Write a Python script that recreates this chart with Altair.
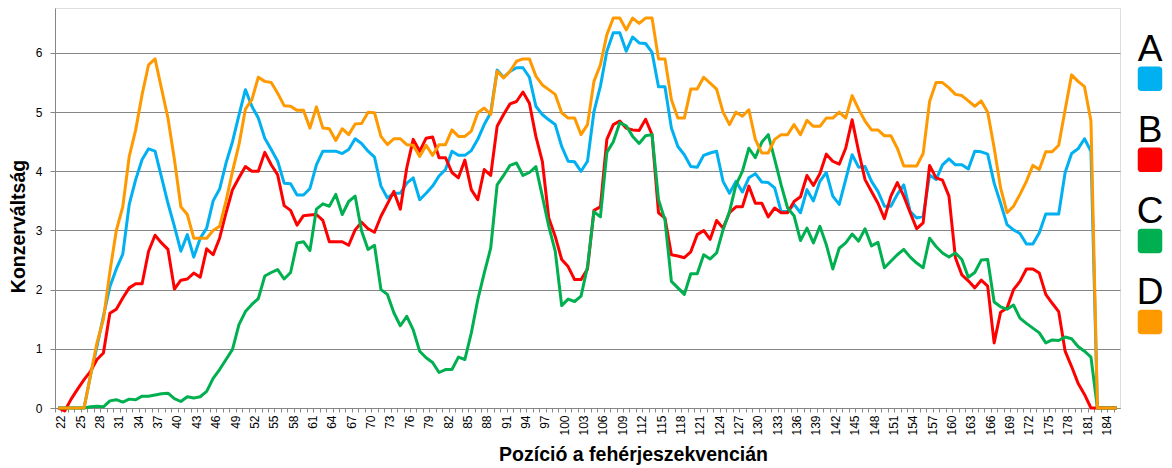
import altair as alt
import pandas as pd

positions = list(range(22, 187))
series_names = ["A", "B", "C", "D"]
series_colors = ["#00B0F0", "#FF0000", "#00B050", "#FF9900"]
y_ticks = [0, 1, 2, 3, 4, 5, 6]
x_label_step = 3

A = [0, 0, 0, 0, 0, 0.55, 1.04, 1.55, 2.05, 2.35,
     2.6, 3.44, 3.86, 4.2, 4.38, 4.34, 3.9, 3.46, 3.07, 2.65,
     2.93, 2.55, 2.87, 3.04, 3.5, 3.7, 4.14, 4.5, 4.95, 5.38,
     5.1, 4.9, 4.56, 4.37, 4.17, 3.8, 3.79, 3.6, 3.6, 3.71,
     4.11, 4.34, 4.34, 4.34, 4.3, 4.37, 4.55, 4.47, 4.34, 4.24,
     3.75, 3.55, 3.63, 3.63, 3.8, 3.89, 3.52, 3.63, 3.75, 3.92,
     4.03, 4.34, 4.27, 4.27, 4.35, 4.54, 4.79, 4.99, 5.71, 5.59,
     5.69, 5.75, 5.75, 5.59, 5.1, 4.96, 4.87, 4.79, 4.42, 4.17,
     4.16, 4.0, 4.17, 5.01, 5.44, 6.03, 6.34, 6.34, 6.03, 6.27,
     6.17, 6.16, 6.01, 5.43, 5.43, 4.73, 4.42, 4.28, 4.08, 4.07,
     4.27, 4.31, 4.34, 3.83, 3.63, 3.83, 3.65, 3.89, 3.96, 3.82,
     3.81, 3.72, 3.32, 3.32, 3.44, 3.3, 3.69, 3.5, 3.83, 3.98,
     3.58, 3.44, 3.86, 4.28, 4.07, 4.08, 3.83, 3.66, 3.41, 3.41,
     3.61, 3.77, 3.32, 3.21, 3.24, 3.94, 3.86, 4.11, 4.21, 4.11,
     4.11, 4.04, 4.34, 4.33, 4.29, 3.8, 3.46, 3.1, 3.01, 2.95,
     2.77, 2.77, 2.96, 3.28, 3.28, 3.28, 3.98, 4.3, 4.38, 4.55,
     4.34, 0, 0, 0, 0]

B = [0, -0.05, 0.15, 0.32, 0.48, 0.62, 0.82, 0.93, 1.6, 1.67,
     1.86, 2.03, 2.1, 2.1, 2.65, 2.92, 2.79, 2.68, 2.01, 2.16,
     2.18, 2.28, 2.21, 2.69, 2.59, 2.87, 3.3, 3.69, 3.89, 4.08,
     4.0, 4.0, 4.32, 4.11, 3.94, 3.42, 3.34, 3.09, 3.25, 3.26,
     3.27, 3.17, 2.81, 2.81, 2.81, 2.75, 3.01, 3.14, 3.03, 2.97,
     3.24, 3.45, 3.66, 3.36, 4.06, 4.54, 4.34, 4.56, 4.58, 4.23,
     4.23, 3.98, 3.89, 4.19, 3.69, 3.52, 4.03, 3.93, 4.76, 4.96,
     5.14, 5.18, 5.34, 5.15, 4.59, 4.17, 3.21, 2.9, 2.51, 2.39,
     2.17, 2.17, 2.35, 3.34, 3.4, 4.54, 4.79, 4.85, 4.73, 4.7,
     4.69, 4.88, 4.62, 3.3, 3.21, 2.59, 2.57, 2.54, 2.64, 2.93,
     3.0, 2.85, 3.17, 3.04, 3.3, 3.4, 3.4, 3.75, 3.46, 3.46,
     3.23, 3.38, 3.3, 3.3, 3.49, 3.57, 3.93, 3.76, 3.96, 4.29,
     4.17, 4.12, 4.39, 4.87, 4.34, 3.86, 3.66, 3.46, 3.2, 3.58,
     3.81, 3.58, 3.3, 3.03, 3.13, 4.1, 3.89, 3.85, 3.58, 2.54,
     2.25, 2.15, 2.03, 2.16, 2.06, 1.1, 1.62, 1.69, 2.0, 2.14,
     2.35, 2.35, 2.28, 1.92, 1.77, 1.63, 0.96, 0.7, 0.42, 0.23,
     0, 0, 0, 0, 0]

C = [0, 0, 0, 0, 0, 0.02, 0.03, 0.02, 0.12, 0.14,
     0.1, 0.15, 0.14, 0.2, 0.2, 0.22, 0.24, 0.25, 0.16, 0.11,
     0.19, 0.17, 0.19, 0.28, 0.5, 0.65, 0.82, 0.99, 1.41, 1.63,
     1.75, 1.85, 2.23, 2.29, 2.34, 2.18, 2.29, 2.79, 2.81, 2.66,
     3.36, 3.45, 3.41, 3.61, 3.27, 3.49, 3.58, 2.99, 2.68, 2.75,
     2.0, 1.92, 1.61, 1.39, 1.55, 1.32, 0.96, 0.85, 0.77, 0.6,
     0.65, 0.65, 0.86, 0.82, 1.27, 1.83, 2.28, 2.7, 3.77, 3.93,
     4.1, 4.14, 3.93, 3.98, 4.08, 3.58, 3.07, 2.65, 1.73, 1.84,
     1.8, 1.89, 2.39, 3.32, 3.23, 4.32, 4.5, 4.82, 4.77, 4.59,
     4.47, 4.6, 4.62, 3.52, 3.18, 2.14, 2.03, 1.92, 2.27, 2.27,
     2.59, 2.52, 2.62, 3.01, 3.32, 3.77, 4.0, 4.39, 4.23, 4.49,
     4.62, 4.2, 3.77, 3.38, 3.25, 2.83, 3.04, 2.79, 3.07, 2.76,
     2.35, 2.7, 2.79, 2.94, 2.82, 3.03, 2.74, 2.8, 2.37, 2.48,
     2.59, 2.68, 2.55, 2.45, 2.37, 2.87, 2.73, 2.62, 2.55, 2.62,
     2.51, 2.21, 2.29, 2.5, 2.51, 1.79, 1.71, 1.67, 1.74, 1.52,
     1.43, 1.35, 1.27, 1.1, 1.15, 1.14, 1.2, 1.17, 1.04, 0.96,
     0.86, 0, 0, 0, 0]

D = [0, 0, 0, 0, 0, 0.55, 1.1, 1.5, 2.3, 3.0,
     3.4, 4.25, 4.7, 5.3, 5.8, 5.9, 5.4, 4.9, 4.2, 3.4,
     3.27, 2.87, 2.87, 2.87, 3.0, 3.07, 3.5, 4.0, 4.45, 5.05,
     5.21, 5.59, 5.52, 5.5, 5.32, 5.11, 5.1, 5.03, 5.03, 4.73,
     5.09, 4.73, 4.72, 4.52, 4.72, 4.62, 4.8, 4.81, 5.0, 4.99,
     4.59, 4.45, 4.55, 4.55, 4.45, 4.44, 4.25, 4.44, 4.27, 4.45,
     4.45, 4.7, 4.59, 4.59, 4.68, 4.99, 5.07, 4.96, 5.69, 5.58,
     5.69, 5.86, 5.9, 5.9, 5.61, 5.46, 5.38, 5.3, 4.99, 4.9,
     4.9, 4.62, 4.79, 5.52, 5.8, 6.31, 6.59, 6.59, 6.39, 6.59,
     6.5, 6.59, 6.59, 5.9, 5.9, 5.21, 4.9, 4.9, 5.39, 5.39,
     5.59, 5.49, 5.39, 5.0, 4.79, 5.0, 4.93, 5.04, 4.54, 4.31,
     4.31, 4.54, 4.62, 4.62, 4.79, 4.62, 4.86, 4.76, 4.76, 4.9,
     4.9, 5.0, 4.9, 5.28, 5.05, 4.85, 4.7, 4.7, 4.6, 4.6,
     4.39, 4.09, 4.09, 4.09, 4.3, 5.18, 5.5, 5.5, 5.41, 5.3,
     5.28, 5.19, 5.1, 5.19, 5.0, 4.4, 3.72, 3.3, 3.41, 3.61,
     3.83, 4.1, 4.03, 4.33, 4.33, 4.44, 5.04, 5.63, 5.52, 5.43,
     4.85, 0, 0, 0, 0]

series_values = [A, B, C, D]

df = pd.DataFrame({
    "pos": positions * len(series_names),
    "series": [n for n in series_names for _ in positions],
    "value": [v for vals in series_values for v in vals],
})
legend_df = pd.DataFrame({"series": series_names})

FONT = "Liberation Sans"
GRID = "#868686"
W, H = 1065, 400
step = W / len(positions)

color_enc = alt.Color("series:N", scale=alt.Scale(domain=series_names, range=series_colors), legend=None)

x_axis = alt.Axis(
    values=positions + [positions[-1] + 1],
    tickOffset=-step / 2,
    labelOffset=step / 2 + 2.5,
    labelExpr=f"((datum.value - {positions[0]}) % {x_label_step} == 0 && datum.value <= {positions[-1] - 2}) ? datum.label : ''",
    labelAngle=-90, labelFontSize=12, labelFont=FONT, labelColor="#000000",
    labelPadding=3, labelOverlap=False, labelFlush=False, labelBound=False,
    tickSize=4, tickColor=GRID, domainColor=GRID, grid=False, format="d",
    title="Pozíció a fehérjeszekvencián", titleFont=FONT, titleFontSize=19.5,
    titleFontWeight="bold", titleColor="#000000", titleAngle=0,
    titleX=578, titleY=52, titleAlign="center", titleBaseline="alphabetic",
)
y_axis = alt.Axis(
    values=y_ticks, format="d", grid=True, gridColor=GRID, gridWidth=1,
    domainColor=GRID, tickColor=GRID, tickSize=5,
    labelFont=FONT, labelFontSize=12, labelColor="#000000", labelPadding=8,
    title="Konzerváltság", titleFont=FONT, titleFontSize=19.5,
    titleFontWeight="bold", titleColor="#000000", titleAngle=-90,
    titleX=-37, titleY=218, titleAlign="center", titleBaseline="middle",
)

lines = alt.Chart(df).mark_line(strokeWidth=3, strokeJoin="round").encode(
    x=alt.X("pos:Q", scale=alt.Scale(domain=[positions[0] - 0.5, positions[-1] + 0.5], nice=False, zero=False), axis=x_axis),
    y=alt.Y("value:Q", scale=alt.Scale(domain=[0, 6.76], nice=False, zero=True), axis=y_axis),
    color=color_enc,
)

leg_y = alt.Y("series:N", scale=alt.Scale(type="point", domain=series_names, range=[41.5, 284.7], padding=0), axis=None)

ROUND_SQ = "M -1 -0.7 Q -1 -1 -0.7 -1 L 0.7 -1 Q 1 -1 1 -0.7 L 1 0.7 Q 1 1 0.7 1 L -0.7 1 Q -1 1 -1 0.7 Z"

letters = alt.Chart(legend_df).mark_text(fontSize=37, font=FONT, align="center", baseline="middle", color="#000000").encode(
    x=alt.value(1095), y=leg_y, text="series:N"
)
swatches = alt.Chart(legend_df).mark_point(shape=ROUND_SQ, filled=True, size=600, opacity=1, yOffset=29.3).encode(
    x=alt.value(1095), y=leg_y, color=color_enc
)

chart = alt.layer(lines, letters, swatches).resolve_scale(y="independent").properties(
    width=W, height=H,
    autosize=alt.AutoSizeParams(type="none"),
    padding={"left": 47, "top": 0, "right": 44, "bottom": 58},
).configure_view(stroke=None).configure(font=FONT)

chart.save("out.html", embed_options={"renderer": "svg", "actions": False})
